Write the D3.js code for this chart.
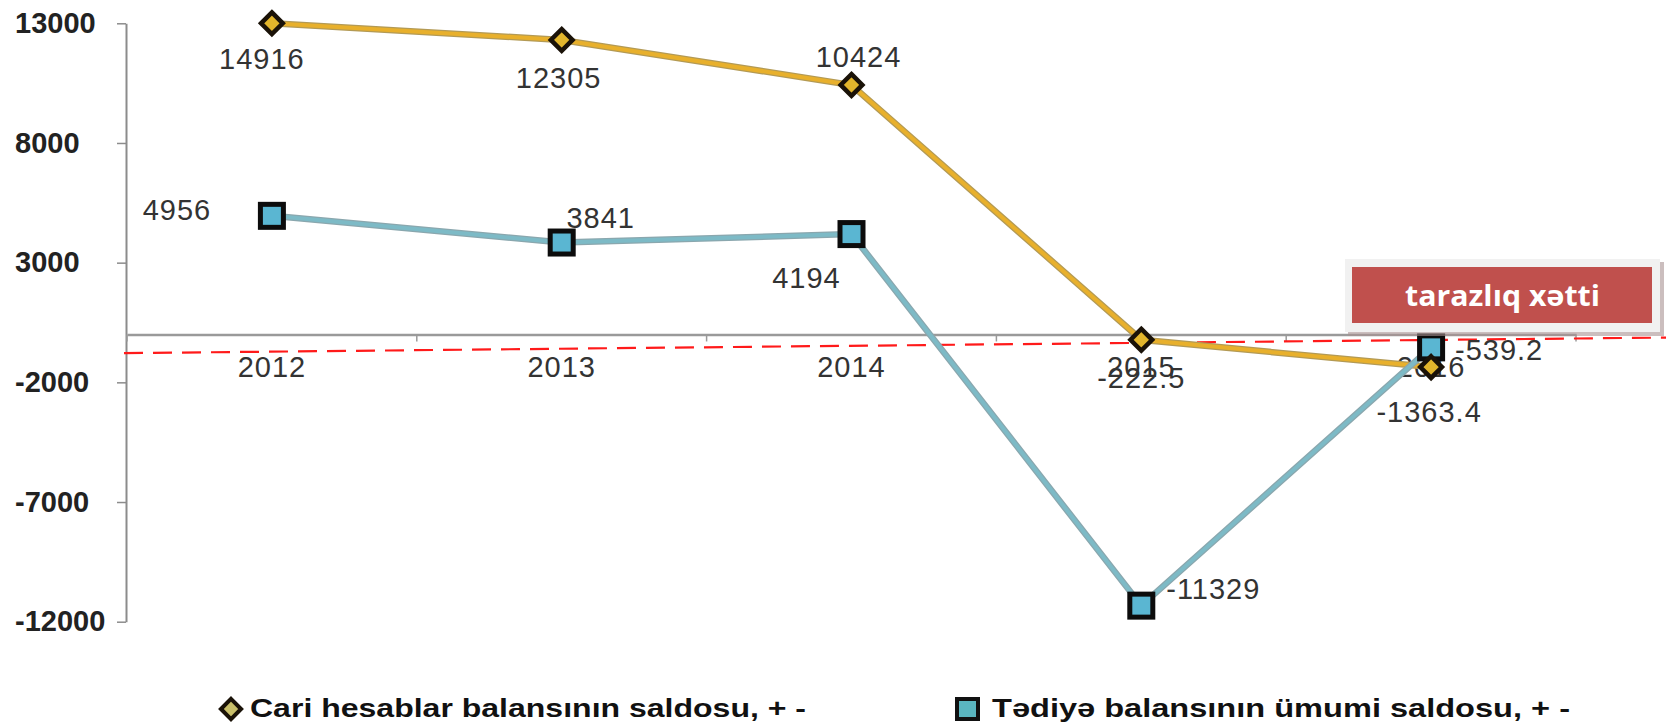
<!DOCTYPE html>
<html lang="az">
  <head>
    <meta charset="utf-8">
    <title>Balans</title>
    <script src="https://d3js.org/d3.v7.min.js"></script>
    <style>
      body { margin: 0; background: #fff; }
      text { font-family: "Liberation Sans", Arial, sans-serif; }
    </style>
  </head>
  <body>
    <script>
      const years = ["2012", "2013", "2014", "2015", "2016"];
      const cariSaldo = [14916, 12305, 10424, -222.5, -1363.4];
      const tediyeSaldo = [4956, 3841, 4194, -11329, -539.2];
      const cariLabels = ["14916", "12305", "10424", "-222.5", "-1363.4"];
      const tediyeLabels = ["4956", "3841", "4194", "-11329", "-539.2"];
      const yTicks = [13000, 8000, 3000, -2000, -7000, -12000];
      const legendNames = ["Cari hesablar balansının saldosu, + -", "Tədiyə balansının ümumi saldosu, + -"];

      // label placement relative to each point
      const cariOffsets = [[-10, 46], [-3, 48], [7, -18], [0, 48], [-2, 55]];
      const tediyeOffsets = [[-95, 4], [39, -15], [-45, 54], [72, -7], [68, 13]];

      const width = 1666, height = 726;
      const svg = d3.select("body").append("svg")
                    .attr("width", width)
                    .attr("height", height);

      const band = d3.scaleBand().domain(years).range([127, 1576]);
      const x = d => band(d) + band.bandwidth() / 2;
      const y = d3.scaleLinear().domain([-12000, 13000]).range([621.7, 23.3]).clamp(true);

      // y axis
      const yAxis = svg.append("g")
                       .attr("transform", "translate(126,0)")
                       .call(d3.axisLeft(y).tickValues(yTicks).tickSize(9).tickSizeOuter(0).tickFormat(d => String(d)));
      yAxis.select(".domain").attr("stroke", "#8c8c8c").attr("stroke-width", 2);
      yAxis.selectAll(".tick line").attr("stroke", "#8c8c8c").attr("stroke-width", 1.5);
      yAxis.selectAll(".tick text")
           .attr("x", -111)
           .attr("text-anchor", "start")
           .attr("fill", "#222")
           .style("font-size", "29px")
           .style("font-weight", "bold")
           .style("font-family", "'Liberation Sans', Arial, sans-serif");

      // zero axis line with category separators
      const xAxis = svg.append("g")
                       .attr("transform", `translate(0,${y(0)})`)
                       .call(d3.axisBottom(band).tickSize(0).tickFormat(""));
      xAxis.select(".domain").attr("stroke", "#9a9a9a").attr("stroke-width", 2.5);
      const sepXs = years.map(d => band(d)).concat([band.range()[1]]);
      xAxis.selectAll(".sep").data(sepXs).enter().append("line")
           .attr("class", "sep")
           .attr("x1", d => d).attr("x2", d => d)
           .attr("y1", 0).attr("y2", 7)
           .attr("stroke", "#9a9a9a").attr("stroke-width", 1.5);

      // balance line (red dashed)
      svg.append("line")
         .attr("x1", 124).attr("y1", y(-780))
         .attr("x2", 1666).attr("y2", y(-130))
         .attr("stroke", "#ff1a1a").attr("stroke-width", 2.2)
         .attr("stroke-dasharray", "19,10");

      // category labels
      svg.selectAll(".cat").data(years).enter().append("text")
         .attr("class", "cat")
         .attr("x", d => x(d))
         .attr("y", 377)
         .attr("text-anchor", "middle")
         .attr("fill", "#333")
         .style("font-size", "29px")
         .style("letter-spacing", "1px")
         .text(d => d);

      const line = d3.line().x(d => x(d[0])).y(d => y(d[1]));
      const cariPts = years.map((yr, i) => [yr, cariSaldo[i]]);
      const tediyePts = years.map((yr, i) => [yr, tediyeSaldo[i]]);

      // lines
      svg.append("path").datum(cariPts).attr("d", line)
         .attr("fill", "none").attr("stroke", "#b39a55").attr("stroke-width", 6.5);
      svg.append("path").datum(cariPts).attr("d", line)
         .attr("fill", "none").attr("stroke", "#e8b02c").attr("stroke-width", 4);
      svg.append("path").datum(tediyePts).attr("d", line)
         .attr("fill", "none").attr("stroke", "#8aa7ae").attr("stroke-width", 6.5);
      svg.append("path").datum(tediyePts).attr("d", line)
         .attr("fill", "none").attr("stroke", "#7dbac6").attr("stroke-width", 4);

      // markers
      const diamond = d3.symbol().type(d3.symbolDiamond2).size(300);
      svg.selectAll(".sq").data(tediyePts).enter().append("rect")
         .attr("class", "sq")
         .attr("x", d => x(d[0]) - 11.5).attr("y", d => y(d[1]) - 11.5)
         .attr("width", 23).attr("height", 23)
         .attr("fill", "#5ab6d2").attr("stroke", "#0c0c0c").attr("stroke-width", 5);
      svg.selectAll(".dia").data(cariPts).enter().append("path")
         .attr("class", "dia")
         .attr("d", diamond)
         .attr("transform", d => `translate(${x(d[0])},${y(d[1])})`)
         .attr("fill", "#e2b52c").attr("stroke", "#1a1208").attr("stroke-width", 4.5);

      // data labels
      svg.selectAll(".lc").data(cariPts).enter().append("text")
         .attr("class", "lc")
         .attr("x", (d, i) => x(d[0]) + cariOffsets[i][0])
         .attr("y", (d, i) => y(d[1]) + cariOffsets[i][1])
         .attr("text-anchor", "middle").attr("fill", "#333")
         .style("font-size", "29px").style("letter-spacing", "1px")
         .text((d, i) => cariLabels[i]);
      svg.selectAll(".lt").data(tediyePts).enter().append("text")
         .attr("class", "lt")
         .attr("x", (d, i) => x(d[0]) + tediyeOffsets[i][0])
         .attr("y", (d, i) => y(d[1]) + tediyeOffsets[i][1])
         .attr("text-anchor", "middle").attr("fill", "#333")
         .style("font-size", "29px").style("letter-spacing", "1px")
         .text((d, i) => tediyeLabels[i]);

      // annotation box
      svg.append("rect")
         .attr("x", 1348).attr("y", 262).attr("width", 316).attr("height", 74)
         .attr("fill", "#a89393").attr("opacity", 0.6);
      svg.append("rect")
         .attr("x", 1345).attr("y", 259).attr("width", 315).attr("height", 73)
         .attr("fill", "#f1f1f1");
      svg.append("rect")
         .attr("x", 1352).attr("y", 267).attr("width", 300).attr("height", 56)
         .attr("fill", "#c0504d");
      svg.append("text")
         .attr("x", 1405).attr("y", 306)
         .attr("fill", "#fff")
         .style("font-family", "'Open Sans', 'Noto Sans', sans-serif")
         .style("font-size", "29px").style("font-weight", "bold")
         .attr("textLength", 195).attr("lengthAdjust", "spacingAndGlyphs")
         .text("tarazlıq xətti");

      // legend
      svg.append("path")
         .attr("d", d3.symbol().type(d3.symbolDiamond2).size(260))
         .attr("transform", "translate(231,709)")
         .attr("fill", "#c9bf6a").attr("stroke", "#1a1208").attr("stroke-width", 4);
      svg.append("text")
         .attr("x", 250).attr("y", 717)
         .attr("fill", "#111").style("font-size", "25px").style("font-weight", "bold")
         .attr("textLength", 556).attr("lengthAdjust", "spacingAndGlyphs")
         .text(legendNames[0]);
      svg.append("rect")
         .attr("x", 957).attr("y", 699).attr("width", 21).attr("height", 20)
         .attr("fill", "#5ab6c0").attr("stroke", "#111").attr("stroke-width", 4);
      svg.append("text")
         .attr("x", 992).attr("y", 717)
         .attr("fill", "#111").style("font-size", "25px").style("font-weight", "bold")
         .attr("textLength", 578).attr("lengthAdjust", "spacingAndGlyphs")
         .text(legendNames[1]);
    </script>
  </body>
</html>
